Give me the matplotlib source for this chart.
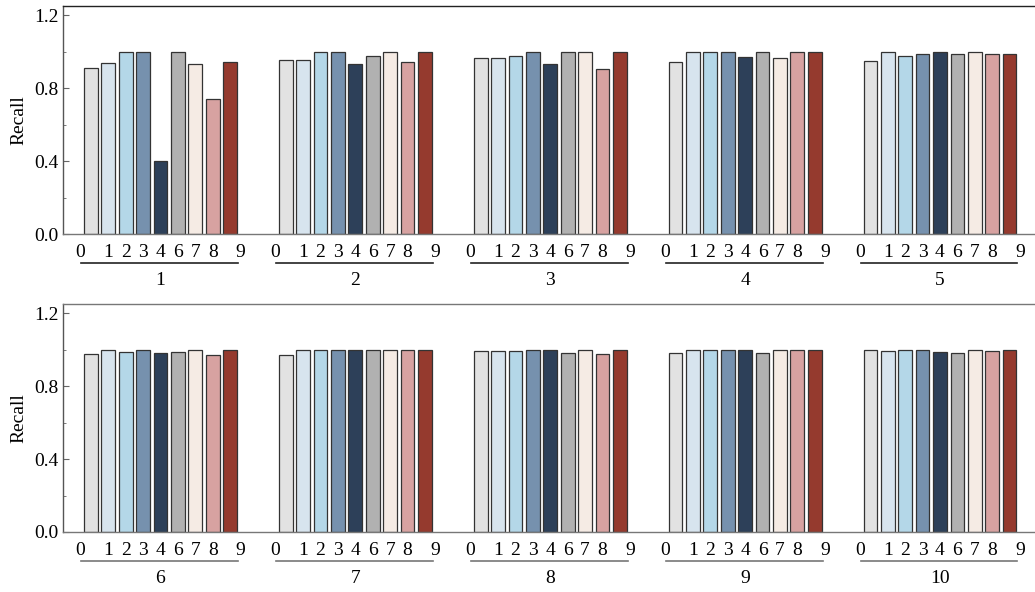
import numpy as np
import matplotlib
matplotlib.use("Agg")
import matplotlib.pyplot as plt
from matplotlib.transforms import blended_transform_factory
from matplotlib.ticker import MultipleLocator

plt.rcParams['font.family'] = ['Liberation Serif', 'DejaVu Serif']

# class ids shown under every group (class 5 is absent)
classes = ['0', '1', '2', '3', '4', '6', '7', '8', '9']
groups = ['1', '2', '3', '4', '5', '6', '7', '8', '9', '10']
colors = ['#e2e2e2', '#d7e4ee', '#b4d7e8', '#7691ae', '#2d4059',
          '#b1b1b1', '#f5ebe4', '#d7a2a1', '#953a2e']

# recall per group, one value per class
recall_1 = [0.913, 0.939, 1.0, 1.0, 0.398, 1.0, 0.930, 0.738, 0.944]
recall_2 = [0.957, 0.952, 1.0, 1.0, 0.935, 0.974, 1.0, 0.944, 1.0]
recall_3 = [0.968, 0.968, 0.974, 1.0, 0.935, 1.0, 1.0, 0.904, 1.0]
recall_4 = [0.944, 1.0, 1.0, 1.0, 0.972, 1.0, 0.968, 1.0, 1.0]
recall_5 = [0.950, 1.0, 0.974, 0.985, 1.0, 0.988, 1.0, 0.988, 0.988]
recall_6 = [0.978, 1.0, 0.988, 1.0, 0.982, 0.988, 1.0, 0.973, 1.0]
recall_7 = [0.973, 1.0, 1.0, 1.0, 1.0, 1.0, 1.0, 1.0, 1.0]
recall_8 = [0.991, 0.991, 0.991, 1.0, 1.0, 0.982, 1.0, 0.977, 1.0]
recall_9 = [0.982, 1.0, 1.0, 1.0, 1.0, 0.982, 1.0, 1.0, 1.0]
recall_10 = [0.998, 0.991, 1.0, 1.0, 0.986, 0.982, 1.0, 0.991, 1.0]

rows = [[recall_1, recall_2, recall_3, recall_4, recall_5],
        [recall_6, recall_7, recall_8, recall_9, recall_10]]

group_step = 11.2
bar_w = 0.79
n = len(classes)
fs = 14

fig = plt.figure(figsize=(10.35, 5.92), dpi=100)
ax_top = fig.add_axes([0.0609, 0.6047, 0.9391, 0.385])
ax_bot = fig.add_axes([0.0609, 0.1014, 0.9391, 0.385])

for r, ax in enumerate([ax_top, ax_bot]):
    tick_pos, tick_lab = [], []
    trans = blended_transform_factory(ax.transData, ax.transAxes)
    for g, vals in enumerate(rows[r]):
        x0 = g * group_step
        xs = x0 + np.arange(n)
        ax.bar(xs, vals, width=bar_w, color=colors, edgecolor='#333333',
               linewidth=0.9, zorder=2)
        pos = xs.astype(float).copy()
        pos[0] -= 0.6
        pos[-1] += 0.6
        tick_pos += list(pos)
        tick_lab += classes
        ax.plot([x0 - 0.55, x0 + n - 1 + 0.45], [-0.127, -0.127],
                color='#222222' if r == 0 else '#777777', lw=1.2,
                transform=trans, clip_on=False)
        ax.text(x0 + (n - 1) / 2, -0.205, groups[r * 5 + g], transform=trans,
                ha='center', va='center', fontsize=fs)

    ax.set_xlim(-1.6, 54.26)
    ax.set_ylim(0, 1.25)
    ax.set_xticks(tick_pos)
    ax.set_xticklabels(tick_lab, fontsize=fs)
    ax.tick_params(axis='x', length=0, pad=7)
    ax.set_yticks([0.0, 0.4, 0.8, 1.2])
    ax.set_yticklabels(['0.0', '0.4', '0.8', '1.2'], fontsize=fs)
    ax.yaxis.set_minor_locator(MultipleLocator(0.2))
    ax.tick_params(axis='y', which='major', direction='in', length=4, pad=3,
                   color='#666666')
    ax.tick_params(axis='y', which='minor', direction='in', length=2,
                   color='#666666')
    ax.set_ylabel('Recall', fontsize=fs, labelpad=5)
    ax.spines['right'].set_visible(False)
    ax.spines['top'].set_color('#222222' if r == 0 else '#777777')
    ax.spines['left'].set_color('#555555')
    ax.spines['bottom'].set_color('#777777')
    for s in ax.spines.values():
        s.set_linewidth(1.0)

fig.savefig('out.png', dpi=100)
